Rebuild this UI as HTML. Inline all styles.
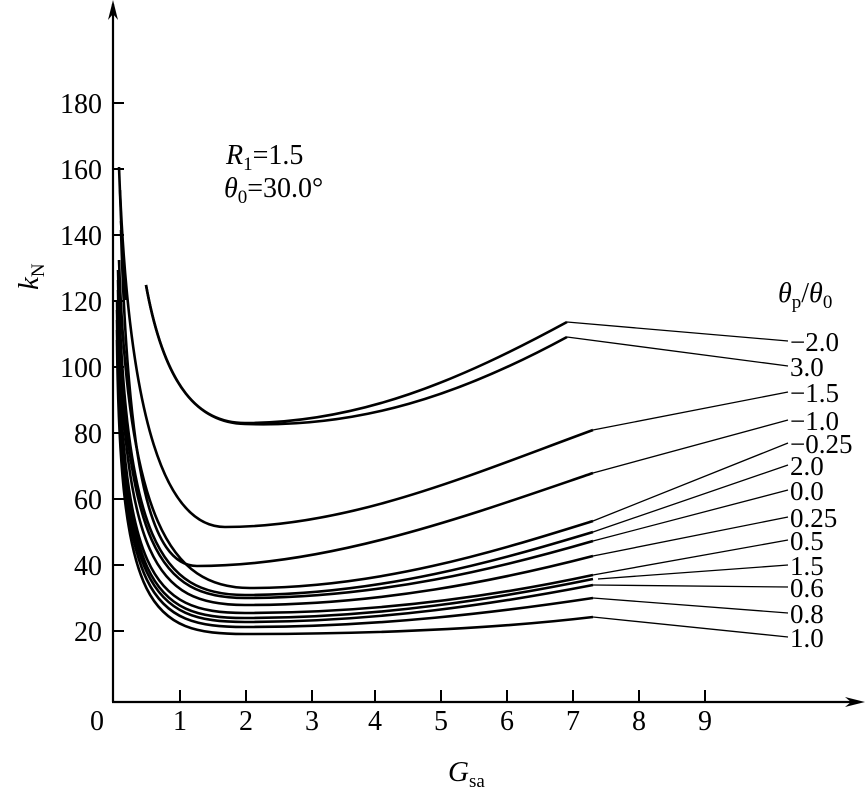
<!DOCTYPE html>
<html><head><meta charset="utf-8"><style>
html,body{margin:0;padding:0;background:#fff;}
svg{display:block;}
text{font-family:"Liberation Serif",serif;fill:#000;}
</style></head><body>
<svg width="865" height="789" viewBox="0 0 865 789" xmlns="http://www.w3.org/2000/svg">
<g stroke="#000" stroke-width="2.2" fill="none">
<line x1="113" y1="4" x2="113" y2="702"/>
<line x1="112" y1="702" x2="858" y2="702"/>
</g>
<polygon points="113,0 108,20 113,14 118,20" fill="#000"/>
<polygon points="865,702 845,697 851,702 845,707" fill="#000"/>
<g stroke="#000" stroke-width="2">
<line x1="113" y1="103" x2="124" y2="103"/>
<line x1="113" y1="169" x2="124" y2="169"/>
<line x1="113" y1="235" x2="124" y2="235"/>
<line x1="113" y1="301" x2="124" y2="301"/>
<line x1="113" y1="367" x2="124" y2="367"/>
<line x1="113" y1="433" x2="124" y2="433"/>
<line x1="113" y1="499" x2="124" y2="499"/>
<line x1="113" y1="565" x2="124" y2="565"/>
<line x1="113" y1="631" x2="124" y2="631"/>
<line x1="180" y1="690" x2="180" y2="702"/>
<line x1="246" y1="690" x2="246" y2="702"/>
<line x1="312" y1="690" x2="312" y2="702"/>
<line x1="375" y1="690" x2="375" y2="702"/>
<line x1="441" y1="690" x2="441" y2="702"/>
<line x1="507" y1="690" x2="507" y2="702"/>
<line x1="573" y1="690" x2="573" y2="702"/>
<line x1="639" y1="690" x2="639" y2="702"/>
<line x1="705" y1="690" x2="705" y2="702"/>
</g>
<g font-size="28" text-anchor="end">
<text x="102" y="113">180</text>
<text x="102" y="179">160</text>
<text x="102" y="245">140</text>
<text x="102" y="311">120</text>
<text x="102" y="377">100</text>
<text x="102" y="443">80</text>
<text x="102" y="509">60</text>
<text x="102" y="575">40</text>
<text x="102" y="641">20</text>
</g>
<g font-size="28" text-anchor="middle">
<text x="97" y="730">0</text>
<text x="180" y="730">1</text>
<text x="246" y="730">2</text>
<text x="312" y="730">3</text>
<text x="375" y="730">4</text>
<text x="441" y="730">5</text>
<text x="507" y="730">6</text>
<text x="573" y="730">7</text>
<text x="639" y="730">8</text>
<text x="705" y="730">9</text>
</g>
<text x="448" y="781" font-size="29"><tspan font-style="italic">G</tspan><tspan font-size="19" dy="6">sa</tspan></text>
<text transform="translate(38,290) rotate(-90)" font-size="29"><tspan font-style="italic">k</tspan><tspan font-size="19" dy="6">N</tspan></text>
<text x="226" y="164" font-size="28"><tspan font-style="italic">R</tspan><tspan font-size="19" dy="6">1</tspan><tspan dy="-6">=1.5</tspan></text>
<text x="224" y="197" font-size="28"><tspan font-style="italic">θ</tspan><tspan font-size="19" dy="6">0</tspan><tspan dy="-6">=30.0°</tspan></text>
<text x="778" y="302" font-size="28"><tspan font-style="italic">θ</tspan><tspan font-size="19" dy="6">p</tspan><tspan dy="-6">/</tspan><tspan font-style="italic">θ</tspan><tspan font-size="19" dy="6">0</tspan></text>
<g stroke="#000" stroke-width="2.6" fill="none">
<path d="M119,167 L123,270"/>
<path d="M121,221 L126,300"/>
<path d="M146,285 C165,390 200,423 245,423 C360,423 460,380 567,322"/>
<path d="M146,285 C165,390 200,423 245,424 C360,428 460,395 567,337"/>
<path d="M120,190 C130,420 165,527 225,527 C350,527 470,475 593,430"/>
<path d="M121,230 C128,470 150,566 197,566 C330,566 470,515 593,473"/>
<path d="M119,260 C128,520 170,588 250,588 C380,588 500,550 593,521"/>
<path d="M118,270 C125,540 160,595 245,595 C380,595 500,560 593,532"/>
<path d="M118,280 C124,550 160,598 245,598 C380,598 500,568 593,541"/>
<path d="M118,290 C123,560 155,605 245,605 C380,605 500,580 593,556"/>
<path d="M117,300 C122,575 150,613 245,613 C380,613 500,595 593,575"/>
<path d="M117,310 C122,585 150,618 245,618 C380,618 500,598 593,579"/>
<path d="M117,320 C121,590 150,622 245,622 C380,622 500,603 593,585"/>
<path d="M117,330 C121,600 150,627 245,627 C380,627 500,612 593,598"/>
<path d="M117,340 C120,610 150,634 245,634 C380,634 500,628 593,617"/>
</g>
<g stroke="#000" stroke-width="1.3">
<line x1="567" y1="322" x2="788" y2="341"/>
<line x1="567" y1="337" x2="788" y2="366"/>
<line x1="593" y1="430" x2="788" y2="392"/>
<line x1="593" y1="473" x2="788" y2="420"/>
<line x1="593" y1="521" x2="788" y2="443"/>
<line x1="593" y1="532" x2="788" y2="465"/>
<line x1="593" y1="541" x2="788" y2="490"/>
<line x1="593" y1="556" x2="788" y2="517"/>
<line x1="593" y1="575" x2="788" y2="540"/>
<line x1="598" y1="579" x2="788" y2="565"/>
<line x1="593" y1="585" x2="788" y2="587"/>
<line x1="593" y1="598" x2="788" y2="613"/>
<line x1="593" y1="617" x2="788" y2="637"/>
</g>
<g font-size="27">
<text x="790" y="351">−2.0</text>
<text x="790" y="376">3.0</text>
<text x="790" y="402">−1.5</text>
<text x="790" y="430">−1.0</text>
<text x="790" y="453">−0.25</text>
<text x="790" y="475">2.0</text>
<text x="790" y="500">0.0</text>
<text x="790" y="527">0.25</text>
<text x="790" y="550">0.5</text>
<text x="790" y="575">1.5</text>
<text x="790" y="597">0.6</text>
<text x="790" y="623">0.8</text>
<text x="790" y="647">1.0</text>
</g>
</svg>
</body></html>
